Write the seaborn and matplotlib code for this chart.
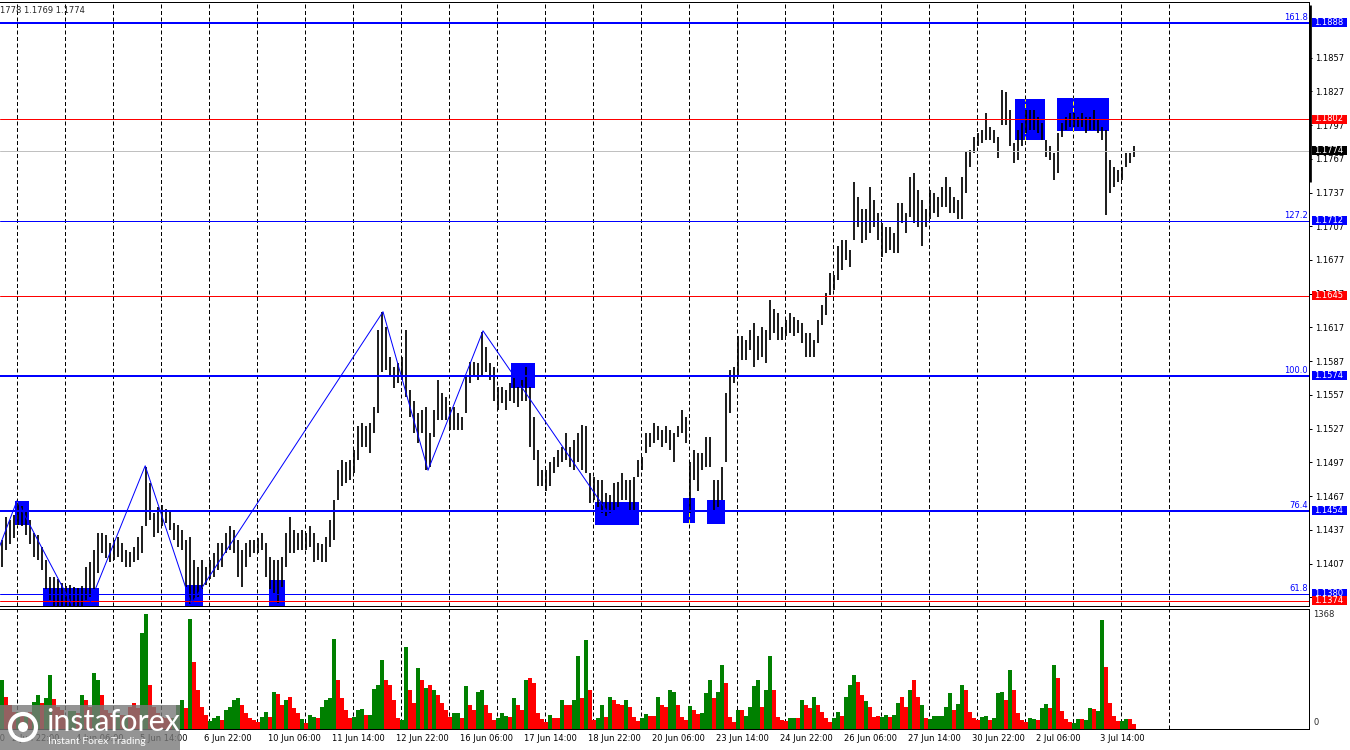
import numpy as np
import pandas as pd
import seaborn as sns
import matplotlib.pyplot as plt
from matplotlib.patches import Rectangle, Circle
from matplotlib.transforms import blended_transform_factory as blend

# EURUSD, 2-hour bars (high / low), oldest first
high = [1.1428, 1.1448, 1.1446, 1.1450, 1.1461, 1.1458, 1.1455, 1.1446, 1.1434, 1.1432,
        1.1422, 1.1410, 1.1395, 1.1395, 1.1393, 1.1390, 1.1387, 1.1388, 1.1386, 1.1385,
        1.1387, 1.1404, 1.1408, 1.1419, 1.1434, 1.1434, 1.1432, 1.1425, 1.1428, 1.1431,
        1.1425, 1.1419, 1.1417, 1.1422, 1.1431, 1.1440, 1.1493, 1.1479, 1.1452, 1.1457,
        1.1459, 1.1456, 1.1453, 1.1443, 1.1441, 1.1437, 1.1428, 1.1431, 1.1410, 1.1404,
        1.1410, 1.1404, 1.1410, 1.1416, 1.1425, 1.1425, 1.1434, 1.1440, 1.1437, 1.1428,
        1.1419, 1.1425, 1.1428, 1.1428, 1.1430, 1.1434, 1.1425, 1.1413, 1.1410, 1.1410,
        1.1413, 1.1434, 1.1448, 1.1437, 1.1434, 1.1437, 1.1434, 1.1440, 1.1434, 1.1425,
        1.1424, 1.1431, 1.1446, 1.1464, 1.1490, 1.1499, 1.1497, 1.1499, 1.1508, 1.1529,
        1.1532, 1.1529, 1.1532, 1.1546, 1.1615, 1.1631, 1.1617, 1.1591, 1.1582, 1.1585,
        1.1591, 1.1615, 1.1561, 1.1552, 1.1541, 1.1544, 1.1546, 1.1523, 1.1544, 1.1570,
        1.1559, 1.1555, 1.1546, 1.1546, 1.1541, 1.1537, 1.1573, 1.1586, 1.1586, 1.1585,
        1.1613, 1.1600, 1.1585, 1.1582, 1.1564, 1.1564, 1.1561, 1.1568, 1.1572, 1.1564,
        1.1570, 1.1582, 1.1564, 1.1537, 1.1508, 1.1490, 1.1490, 1.1497, 1.1502, 1.1508,
        1.1511, 1.1523, 1.1511, 1.1517, 1.1523, 1.1530, 1.1529, 1.1488, 1.1484, 1.1481,
        1.1481, 1.1470, 1.1468, 1.1479, 1.1480, 1.1488, 1.1481, 1.1481, 1.1484, 1.1499,
        1.1502, 1.1523, 1.1523, 1.1532, 1.1529, 1.1526, 1.1529, 1.1526, 1.1523, 1.1529,
        1.1544, 1.1537, 1.1497, 1.1508, 1.1505, 1.1505, 1.1520, 1.1520, 1.1481, 1.1481,
        1.1493, 1.1559, 1.1579, 1.1582, 1.1609, 1.1609, 1.1606, 1.1615, 1.1621, 1.1609,
        1.1617, 1.1615, 1.1641, 1.1633, 1.1630, 1.1617, 1.1624, 1.1630, 1.1626, 1.1624,
        1.1621, 1.1612, 1.1612, 1.1606, 1.1624, 1.1637, 1.1648, 1.1665, 1.1664, 1.1689,
        1.1695, 1.1695, 1.1686, 1.1746, 1.1733, 1.1722, 1.1722, 1.1742, 1.1730, 1.1719,
        1.1710, 1.1706, 1.1706, 1.1701, 1.1728, 1.1728, 1.1719, 1.1751, 1.1754, 1.1739,
        1.1730, 1.1722, 1.1739, 1.1737, 1.1733, 1.1742, 1.1751, 1.1742, 1.1733, 1.1730,
        1.1751, 1.1773, 1.1775, 1.1786, 1.1790, 1.1793, 1.1808, 1.1795, 1.1793, 1.1786,
        1.1828, 1.1826, 1.1810, 1.1781, 1.1793, 1.1799, 1.1810, 1.1810, 1.1810, 1.1804,
        1.1799, 1.1784, 1.1778, 1.1772, 1.1790, 1.1799, 1.1804, 1.1808, 1.1808, 1.1804,
        1.1808, 1.1804, 1.1804, 1.1810, 1.1802, 1.1795, 1.1793, 1.1766, 1.1760, 1.1757,
        1.1760, 1.1772, 1.1772, 1.1778]
low = [1.1404, 1.1419, 1.1424, 1.1430, 1.1441, 1.1440, 1.1432, 1.1424, 1.1413, 1.1410,
       1.1401, 1.1384, 1.1375, 1.1365, 1.1365, 1.1365, 1.1365, 1.1366, 1.1365, 1.1366,
       1.1365, 1.1375, 1.1377, 1.1384, 1.1399, 1.1416, 1.1412, 1.1408, 1.1410, 1.1413,
       1.1408, 1.1404, 1.1404, 1.1408, 1.1410, 1.1416, 1.1440, 1.1446, 1.1431, 1.1434,
       1.1440, 1.1443, 1.1437, 1.1428, 1.1422, 1.1419, 1.1386, 1.1371, 1.1375, 1.1377,
       1.1384, 1.1388, 1.1393, 1.1395, 1.1401, 1.1404, 1.1416, 1.1419, 1.1416, 1.1395,
       1.1386, 1.1404, 1.1413, 1.1416, 1.1416, 1.1419, 1.1395, 1.1384, 1.1381, 1.1372,
       1.1386, 1.1404, 1.1416, 1.1416, 1.1419, 1.1419, 1.1419, 1.1422, 1.1408, 1.1410,
       1.1408, 1.1408, 1.1422, 1.1428, 1.1464, 1.1476, 1.1479, 1.1481, 1.1488, 1.1499,
       1.1511, 1.1511, 1.1505, 1.1523, 1.1541, 1.1577, 1.1579, 1.1573, 1.1563, 1.1568,
       1.1570, 1.1555, 1.1537, 1.1523, 1.1514, 1.1523, 1.1490, 1.1493, 1.1520, 1.1535,
       1.1535, 1.1535, 1.1526, 1.1526, 1.1526, 1.1526, 1.1541, 1.1568, 1.1573, 1.1570,
       1.1573, 1.1577, 1.1570, 1.1552, 1.1544, 1.1550, 1.1544, 1.1552, 1.1550, 1.1546,
       1.1552, 1.1552, 1.1511, 1.1499, 1.1476, 1.1476, 1.1472, 1.1476, 1.1488, 1.1493,
       1.1497, 1.1499, 1.1493, 1.1490, 1.1497, 1.1490, 1.1488, 1.1461, 1.1464, 1.1457,
       1.1452, 1.1449, 1.1452, 1.1455, 1.1457, 1.1464, 1.1464, 1.1455, 1.1455, 1.1484,
       1.1490, 1.1505, 1.1511, 1.1514, 1.1517, 1.1511, 1.1514, 1.1508, 1.1497, 1.1520,
       1.1523, 1.1514, 1.1452, 1.1481, 1.1472, 1.1490, 1.1493, 1.1493, 1.1455, 1.1457,
       1.1464, 1.1497, 1.1541, 1.1568, 1.1573, 1.1588, 1.1588, 1.1597, 1.1582, 1.1588,
       1.1591, 1.1585, 1.1606, 1.1612, 1.1606, 1.1606, 1.1609, 1.1612, 1.1609, 1.1612,
       1.1603, 1.1591, 1.1591, 1.1591, 1.1603, 1.1619, 1.1628, 1.1646, 1.1650, 1.1659,
       1.1668, 1.1677, 1.1671, 1.1695, 1.1706, 1.1692, 1.1695, 1.1701, 1.1706, 1.1695,
       1.1680, 1.1683, 1.1686, 1.1683, 1.1683, 1.1710, 1.1701, 1.1715, 1.1710, 1.1706,
       1.1689, 1.1706, 1.1713, 1.1719, 1.1715, 1.1724, 1.1724, 1.1719, 1.1719, 1.1713,
       1.1713, 1.1737, 1.1760, 1.1772, 1.1778, 1.1781, 1.1784, 1.1784, 1.1781, 1.1768,
       1.1797, 1.1797, 1.1778, 1.1763, 1.1766, 1.1778, 1.1790, 1.1793, 1.1793, 1.1790,
       1.1784, 1.1769, 1.1766, 1.1748, 1.1754, 1.1786, 1.1793, 1.1795, 1.1795, 1.1795,
       1.1795, 1.1790, 1.1793, 1.1793, 1.1790, 1.1784, 1.1717, 1.1737, 1.1742, 1.1746,
       1.1748, 1.1760, 1.1763, 1.1769]

# tick volume per bar and bar direction (g = up, r = down)
volume = [584, 380, 284, 200, 200, 164, 164, 200, 320, 404, 308, 368, 644, 356, 260, 224, 128, 212, 212, 188,
          404, 344, 260, 668, 584, 404, 224, 188, 164, 188, 164, 164, 260, 308, 248, 1148, 1368, 524, 260, 188,
          140, 128, 128, 128, 284, 344, 248, 1310, 800, 464, 260, 164, 92, 128, 152, 104, 224, 260, 344, 368,
          284, 188, 128, 104, 80, 140, 200, 140, 440, 416, 284, 344, 380, 248, 188, 116, 68, 164, 140, 128,
          260, 344, 368, 1076, 584, 368, 224, 128, 140, 224, 236, 164, 164, 476, 524, 824, 584, 524, 344, 128,
          104, 980, 464, 308, 728, 584, 488, 524, 464, 404, 308, 224, 140, 188, 188, 128, 512, 284, 224, 440,
          464, 284, 188, 104, 128, 188, 152, 140, 368, 284, 224, 584, 608, 548, 188, 116, 80, 164, 128, 128,
          344, 284, 284, 344, 872, 368, 1064, 464, 104, 128, 284, 140, 380, 344, 296, 284, 344, 260, 140, 92,
          128, 176, 152, 152, 380, 284, 260, 464, 440, 284, 140, 104, 272, 224, 176, 188, 428, 584, 368, 440,
          764, 548, 140, 80, 224, 224, 152, 260, 512, 584, 260, 464, 872, 464, 140, 104, 92, 128, 128, 128,
          344, 284, 248, 380, 284, 200, 128, 80, 128, 200, 152, 380, 524, 644, 560, 404, 332, 260, 140, 152,
          140, 164, 140, 164, 308, 380, 260, 464, 584, 380, 284, 128, 116, 152, 152, 152, 260, 428, 224, 296,
          524, 464, 200, 128, 104, 140, 152, 104, 128, 428, 440, 344, 704, 464, 188, 104, 80, 128, 116, 104,
          248, 296, 248, 764, 608, 212, 116, 80, 68, 116, 116, 104, 248, 236, 212, 1300, 740, 308, 152, 92,
          92, 116, 116, 56]
vol_dir = ("grrrgrgrggrggrrrrggr" "grrggrrrrgrgrrrggrrr" "rrrgggrgrrrrgggrgggg"
           "rrrrrggrgrrgrrrgrggr" "ggggrrrrgggrggggrrrr" "ggrrgrgrgrrrrggrgrrg"
           "grrrgggrgrrgrrrrrgrr" "grrggrgrrggrgrrrgrrr" "ggrrgrrggrrrgrrgggrg"
           "grrrgrggggrggrrrrggr" "grrgrrrrggrgggrrgrrr" "ggrggrrgrrgrggggggrg"
           "grrrrggrgggrgrrrrggr" "ggrgrrrrggrggrggrrrr" "ggrr")

# horizontal levels
levels = [1.1888, 1.1802, 1.1774, 1.1712, 1.1645, 1.1574, 1.1454, 1.1380, 1.1374]
level_colors = ['#0000ff', '#ff0000', '#c0c0c0', '#0000ff', '#ff0000', '#0000ff', '#0000ff', '#0000ff', '#ff0000']
level_widths = [2, 1, 1, 1, 1, 2, 2, 1, 1]
level_tags = ['161.8', '', '', '127.2', '', '100.0', '76.4', '61.8', '']
box_colors = ['#0000ff', '#ff0000', '#000000', '#0000ff', '#ff0000', '#0000ff', '#0000ff', '#0000ff', '#ff0000']

# zigzag pivots (bar, price)
zz_bar = [-3, 3.75, 19.9, 35.8, 47.3, 95.25, 106.5, 120.25, 152.5]
zz_price = [1.1400, 1.1463, 1.1354, 1.1494, 1.1371, 1.1631, 1.1490, 1.1614, 1.1447]

# blue boxes (bar from, bar to, price low, price high)
rect_x0 = [3.25, 10.3, 45.75, 66.8, 127.25, 148.25, 170.25, 176.25, 253.25, 263.75]
rect_x1 = [6.75, 24.2, 50.2, 70.75, 133.25, 159.25, 173.25, 180.75, 260.75, 276.75]
rect_lo = [1.1441, 1.1360, 1.1360, 1.1360, 1.1563, 1.1441, 1.1443, 1.1442, 1.1784, 1.1792]
rect_hi = [1.1463, 1.1385, 1.1388, 1.1392, 1.1585, 1.1462, 1.1465, 1.1464, 1.1820, 1.1821]

price_ticks = [1.1857, 1.1827, 1.1797, 1.1767, 1.1737, 1.1707, 1.1677, 1.1647, 1.1617,
               1.1587, 1.1557, 1.1527, 1.1497, 1.1467, 1.1437, 1.1407, 1.1377]
time_labels = ['30 May 14:00', '2 Jun 22:00', '4 Jun 06:00', '5 Jun 14:00', '6 Jun 22:00',
               '10 Jun 06:00', '11 Jun 14:00', '12 Jun 22:00', '16 Jun 06:00', '17 Jun 14:00',
               '18 Jun 22:00', '20 Jun 06:00', '23 Jun 14:00', '24 Jun 22:00', '26 Jun 06:00',
               '27 Jun 14:00', '30 Jun 22:00', '2 Jul 06:00', '3 Jul 14:00']
vol_max_label = 1368

sns.set_style('white')
plt.rcParams['font.family'] = ['DejaVu Sans']

W, H = 1350, 750
px = 72 / 100  # points per pixel
fig = plt.figure(figsize=(W / 100, H / 100), dpi=100)
ax = fig.add_axes([0, 1 - 606 / H, 1309 / W, 604 / H])
axv = fig.add_axes([0, 1 - 728.7 / H, 1309 / W, 120.2 / H])

n = len(high)
bars = np.arange(n)
xlim = (-0.5, 326.75)
grid = 3.825 + 12 * np.arange(25)
dash = (0, (4, 2.5))

# price panel
for g in grid:
    ax.axvline(g, color='black', lw=px, ls=dash, zorder=0.5)
for x0, x1, y0, y1 in zip(rect_x0, rect_x1, rect_lo, rect_hi):
    ax.add_patch(Rectangle((x0, y0), x1 - x0, y1 - y0, fc='#0000ff', ec='none', zorder=1))
    for g in grid:
        if x0 <= g <= x1:
            ax.vlines(g, y0, y1, colors='#ffff00', lw=px, linestyles=dash, zorder=1.5)
ax.vlines(bars, low, high, colors='black', lw=1.25, zorder=2)
for p, c, w in zip(levels, level_colors, level_widths):
    ax.axhline(p, color=c, lw=w * px, zorder=3)
ax.plot(zz_bar, zz_price, color='#0000ff', lw=px, zorder=3.5)

ax.set_xlim(*xlim)
ax.set_ylim(1.13693, 1.19064)
ax.set_xticks([])
ax.yaxis.tick_right()
ax.set_yticks(price_ticks)
ax.set_yticklabels([f'{t:.4f}' for t in price_ticks])
ax.tick_params(axis='y', length=2.2, width=px, pad=2.5, labelsize=6, colors='black')
for s in ['top', 'right', 'bottom']:
    ax.spines[s].set_color('black')
    ax.spines[s].set_linewidth(px)
ax.spines['left'].set_visible(False)

tr = blend(ax.transAxes, ax.transData)
for p, tag, bc in zip(levels, level_tags, box_colors):
    if tag:
        ax.annotate(tag, xy=(1, p), xycoords=tr, xytext=(-1 * px, 1 * px), textcoords='offset points',
                    ha='right', va='bottom', fontsize=6, color='#0000ff', zorder=4)
    ax.add_patch(Rectangle((1 + 2.7 / 1309, p - 0.0004), 35.3 / 1309, 0.0008, transform=tr,
                           fc=bc, ec='none', clip_on=False, zorder=5))
    ax.annotate(f'{p:.4f}', xy=(1, p), xycoords=tr, xytext=(5.5 * px, 0.5 * px), textcoords='offset points',
                ha='left', va='center', fontsize=6, color='white', zorder=6, annotation_clip=False)
ax.plot([1 + 1.3 / 1309] * 2, [1.1746, 1.1904], transform=tr, color='black', lw=2.7 * px,
        solid_capstyle='butt', clip_on=False, zorder=6)

# volume panel
dfv = pd.DataFrame({'bar': bars, 'vol': volume, 'dir': list(vol_dir)})
for g in grid:
    axv.axvline(g, color='black', lw=px, ls=dash, zorder=0.5)
sns.barplot(data=dfv, x='bar', y='vol', hue='dir', palette={'g': '#008000', 'r': '#ff0000'},
            native_scale=True, width=1.0, dodge=False, saturation=1, linewidth=0,
            errorbar=None, legend=False, ax=axv, zorder=2)
axv.set_xlim(*xlim)
axv.set_ylim(0, 1435)
axv.set_xlabel('')
axv.set_ylabel('')
axv.set_yticks([])
tpos = -13.5 + 16 * np.arange(len(time_labels))
axv.set_xticks(tpos[1:])
axv.set_xticklabels([''] * (len(tpos) - 1))
axv.tick_params(axis='x', length=2.2, width=px, colors='black', direction='out')
for s in ['top', 'right', 'bottom']:
    axv.spines[s].set_color('black')
    axv.spines[s].set_linewidth(px)
axv.spines['left'].set_visible(False)
trx = blend(axv.transData, axv.transAxes)
for x, lab in zip(tpos, time_labels):
    axv.annotate(lab, xy=(x, 0), xycoords=trx, xytext=(0.5 * px, -9.6 * px), textcoords='offset points',
                 ha='left', va='center', fontsize=6, color='black', annotation_clip=False)
trv = blend(axv.transAxes, axv.transData)
axv.annotate(str(vol_max_label), xy=(1, vol_max_label), xycoords=trv, xytext=(4 * px, 0),
             textcoords='offset points', ha='left', va='center', fontsize=6, annotation_clip=False)
axv.annotate('0', xy=(1, 0), xycoords=trv, xytext=(4 * px, 6 * px),
             textcoords='offset points', ha='left', va='center', fontsize=6, annotation_clip=False)

# header text, partly cut at the left edge
fig.text(0, 1 - 10.7 / H, '1778 1.1769 1.1774', fontsize=6, ha='left', va='center')

# watermark
fig.add_artist(Rectangle((0, 0), 180 / W, 45 / H, transform=fig.transFigure,
                         fc='#7a7a7a', alpha=0.8, ec='none', zorder=10))
fig.add_artist(Circle((0.23, 0.23), 0.13, transform=fig.dpi_scale_trans, fill=False,
                      ec='white', lw=3, zorder=11))
fig.add_artist(Circle((0.23, 0.23), 0.05, transform=fig.dpi_scale_trans, fc='white',
                      ec='none', zorder=11))
fig.text(46 / W, 1 - 731 / H, 'instaforex', fontsize=22, family=['Lato', 'DejaVu Sans'],
         color='white', ha='left', va='baseline', zorder=12)
fig.text(48 / W, 1 - 744 / H, 'Instant Forex Trading', fontsize=7.5, family=['Lato', 'DejaVu Sans'],
         color='white', ha='left', va='baseline', zorder=12)

fig.savefig('out.png', dpi=100, facecolor='white')
